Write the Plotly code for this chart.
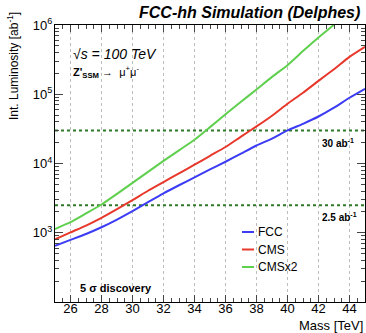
import plotly.graph_objects as go

mass = [25, 26, 27, 28, 29, 30, 31, 32, 33, 34, 35, 36, 37, 38, 39, 40, 41, 42, 43, 44, 45]
fcc = [650, 790, 960, 1200, 1550, 2050, 2760, 3700, 4850, 6300, 8200, 10600, 13900, 18200,
       22800, 30000, 37400, 47700, 64000, 89000, 120000]
cms = [800, 1010, 1270, 1640, 2190, 2950, 4040, 5400, 7200, 9600, 12900, 17300, 24500, 34300,
       49000, 73000, 105000, 156000, 230000, 347000, 484000]
cmsx2 = [1130, 1420, 1900, 2560, 3650, 5260, 7580, 10900, 15500, 22000, 33500, 51500, 78000,
         117000, 178000, 263000, 420000, 660000, 1010000, 1600000, 2400000]
series_names = ["FCC", "CMS", "CMSx2"]
series_colors = ["#3c3cf5", "#e8382c", "#5fcf4e"]

thresholds = [30000, 2500]
threshold_labels = ["30 ab<sup>-1</sup>", "2.5 ab<sup>-1</sup>"]

xticks = [26, 28, 30, 32, 34, 36, 38, 40, 42, 44]
yticks = [1e3, 1e4, 1e5, 1e6]
yticklabels = ["10<sup>3</sup>", "10<sup>4</sup>", "10<sup>5</sup>", "10<sup>6</sup>"]

FONT = "Liberation Sans, Arial, sans-serif"

fig = go.Figure()

for t in thresholds:
    fig.add_trace(go.Scatter(x=[25, 45], y=[t, t], mode="lines",
                             line=dict(color="#2f7a2a", width=2, dash="dot"),
                             showlegend=False, hoverinfo="skip"))

for name, ys, col in zip(series_names, [fcc, cms, cmsx2], series_colors):
    fig.add_trace(go.Scatter(x=mass, y=ys, mode="lines", name=name,
                             line=dict(color=col, width=2, shape="spline", smoothing=0.5),
                             showlegend=False))

W, H = 366, 333
ml, mr, mt, mb = 55, 1, 25, 31
pw = W - ml - mr
ph = H - mt - mb

def px(xp):
    return (xp - ml) / pw

def py(yp):
    return (H - mb - yp) / ph

annotations = []
annotations.append(dict(text="<b><i>FCC-hh Simulation (Delphes)</i></b>", x=px(362), y=py(12),
                        xref="paper", yref="paper", xanchor="right", yanchor="middle",
                        showarrow=False, font=dict(size=16, color="black", family=FONT)))
annotations.append(dict(text="<i>\u221As = 100 TeV</i>", x=px(71), y=py(54),
                        xref="paper", yref="paper", xanchor="left", yanchor="middle",
                        showarrow=False, font=dict(size=14, color="black", family=FONT)))
annotations.append(dict(text="<b>Z'</b><sub><b>SSM</b></sub> \u2192  \u03bc<sup>+</sup>\u03bc<sup>-</sup>",
                        x=px(71), y=py(72),
                        xref="paper", yref="paper", xanchor="left", yanchor="middle",
                        showarrow=False, font=dict(size=11, color="black", family=FONT)))
annotations.append(dict(text="<b>5 \u03c3 discovery</b>", x=px(78), y=py(288),
                        xref="paper", yref="paper", xanchor="left", yanchor="middle",
                        showarrow=False, font=dict(size=11, color="black", family=FONT)))
for lab, yp in zip(threshold_labels, [143, 217]):
    annotations.append(dict(text="<b>" + lab + "</b>", x=px(320), y=py(yp),
                            xref="paper", yref="paper", xanchor="left", yanchor="middle",
                            showarrow=False, font=dict(size=10, color="black", family=FONT)))
annotations.append(dict(text="Int. Luminosity [ab<sup>-1</sup>]", x=px(13), y=py(10),
                        xref="paper", yref="paper", xanchor="center", yanchor="top",
                        textangle=-90, showarrow=False,
                        font=dict(size=12, color="black", family=FONT)))
annotations.append(dict(text="Mass [TeV]", x=px(365), y=py(325),
                        xref="paper", yref="paper", xanchor="right", yanchor="middle",
                        showarrow=False, font=dict(size=13, color="black", family=FONT)))

shapes = []
for i, (name, col) in enumerate(zip(series_names, series_colors)):
    yp = 232 + i * 17.5
    shapes.append(dict(type="line", xref="paper", yref="paper",
                       x0=px(242), x1=px(254), y0=py(yp), y1=py(yp),
                       line=dict(color=col, width=2)))
    annotations.append(dict(text=name, x=px(256), y=py(yp), xref="paper", yref="paper",
                            xanchor="left", yanchor="middle", showarrow=False,
                            font=dict(size=12, color="black", family=FONT)))

fig.update_layout(
    width=W, height=H,
    margin=dict(l=ml, r=mr, t=mt, b=mb, pad=0),
    paper_bgcolor="white", plot_bgcolor="white",
    font=dict(family=FONT, color="black", size=13),
    annotations=annotations, shapes=shapes,
    showlegend=False,
)
fig.update_xaxes(range=[25, 45], tickvals=xticks, ticks="inside", ticklen=7,
                 showline=True, linecolor="black", linewidth=1, mirror="ticks",
                 showgrid=True, gridcolor="#bdbdbd", griddash="dot", gridwidth=1,
                 zeroline=False, tickfont=dict(size=13), ticklabelstandoff=-6,
                 minor=dict(ticks="inside", ticklen=4, dtick=0.5, showgrid=False))
fig.update_yaxes(type="log", range=[2, 6], tickvals=yticks, ticktext=yticklabels,
                 ticks="inside", ticklen=8,
                 showline=True, linecolor="black", linewidth=1, mirror="ticks",
                 showgrid=False, zeroline=False, tickfont=dict(size=13), ticklabelstandoff=-1,
                 minor=dict(ticks="inside", ticklen=4, dtick="D1", showgrid=False))

fig.write_html("out.html")
